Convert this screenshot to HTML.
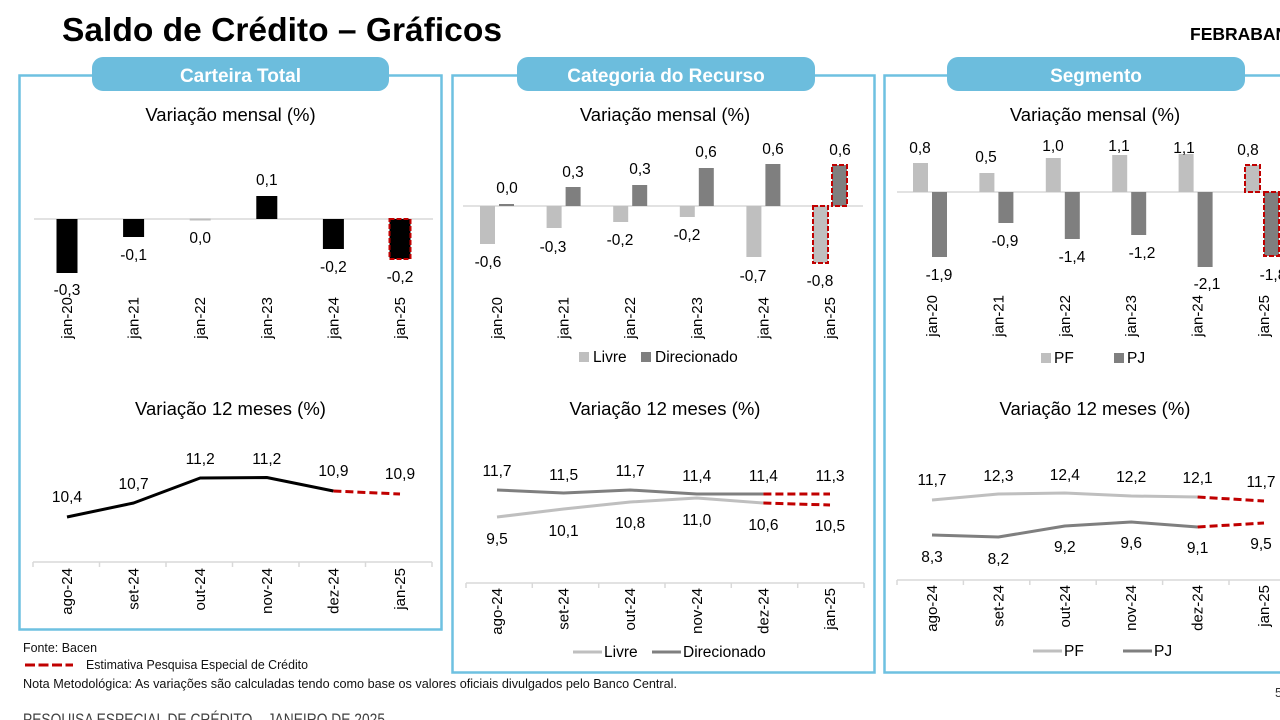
<!DOCTYPE html>
<html><head><meta charset="utf-8">
<style>
html,body{margin:0;padding:0;background:#fff;}
svg{display:block;}
text{font-family:"Liberation Sans",Arial,sans-serif;fill:#000;}
.t{font-size:18.5px;text-anchor:middle;}
.v{font-size:15.5px;text-anchor:middle;}
.c{font-size:15px;text-anchor:end;}
.lg{font-size:15.5px;}
.pill{font-size:19px;font-weight:bold;fill:#fff;text-anchor:middle;}
.ft{font-size:13px;fill:#111;}
</style></head>
<body>
<svg width="1280" height="720" viewBox="0 0 1280 720" xmlns="http://www.w3.org/2000/svg">
<rect width="1280" height="720" fill="#fff"/>

<!-- Header -->
<text x="62" y="41" font-size="33" font-weight="bold" textLength="440" lengthAdjust="spacingAndGlyphs">Saldo de Crédito – Gráficos</text>
<text x="1190" y="40" font-size="17.5" font-weight="bold">FEBRABAN</text>

<!-- Panel boxes -->
<rect x="19.5" y="75.5" width="422" height="554" fill="none" stroke="#6ec1e1" stroke-width="2.5"/>
<rect x="452.5" y="75.5" width="422" height="597" fill="none" stroke="#6ec1e1" stroke-width="2.5"/>
<rect x="884.5" y="75.5" width="420" height="597" fill="none" stroke="#6ec1e1" stroke-width="2.5"/>

<!-- Pills -->
<rect x="92" y="57" width="297" height="34" rx="11" fill="#6cbddd"/>
<text class="pill" x="240.5" y="82">Carteira Total</text>
<rect x="517" y="57" width="298" height="34" rx="11" fill="#6cbddd"/>
<text class="pill" x="666" y="82">Categoria do Recurso</text>
<rect x="947" y="57" width="298" height="34" rx="11" fill="#6cbddd"/>
<text class="pill" x="1096" y="82">Segmento</text>

<!-- ============ PANEL 1 TOP ============ -->
<text class="t" x="230.5" y="121">Variação mensal (%)</text>
<line x1="34" y1="219" x2="433" y2="219" stroke="#d9d9d9" stroke-width="1.5"/>
<rect x="56.5" y="219" width="21" height="54" fill="#000"/>
<rect x="123.1" y="219" width="21" height="18" fill="#000"/>
<rect x="189.7" y="218.5" width="21" height="2" fill="#bdbdbd"/>
<rect x="256.3" y="196" width="21" height="23" fill="#000"/>
<rect x="322.9" y="219" width="21" height="30" fill="#000"/>
<rect x="389.5" y="219" width="21" height="40" fill="#000" stroke="#c00000" stroke-width="2" stroke-dasharray="5,2"/>
<text class="v" x="67" y="295">-0,3</text>
<text class="v" x="133.6" y="260">-0,1</text>
<text class="v" x="200.2" y="243">0,0</text>
<text class="v" x="266.8" y="185">0,1</text>
<text class="v" x="333.4" y="272">-0,2</text>
<text class="v" x="400" y="282">-0,2</text>
<text class="c" transform="translate(72,297) rotate(-90)">jan-20</text>
<text class="c" transform="translate(138.6,297) rotate(-90)">jan-21</text>
<text class="c" transform="translate(205.2,297) rotate(-90)">jan-22</text>
<text class="c" transform="translate(271.8,297) rotate(-90)">jan-23</text>
<text class="c" transform="translate(338.4,297) rotate(-90)">jan-24</text>
<text class="c" transform="translate(405,297) rotate(-90)">jan-25</text>

<!-- ============ PANEL 1 BOTTOM ============ -->
<text class="t" x="230.5" y="415">Variação 12 meses (%)</text>
<polyline points="67,517 133.6,503 200.2,478 266.8,477.5 333.4,491" fill="none" stroke="#000" stroke-width="3" stroke-linejoin="round"/>
<line x1="333.4" y1="491" x2="400" y2="494" stroke="#c00000" stroke-width="3" stroke-dasharray="8,4"/>
<text class="v" x="67" y="502">10,4</text>
<text class="v" x="133.6" y="489">10,7</text>
<text class="v" x="200.2" y="464">11,2</text>
<text class="v" x="266.8" y="464">11,2</text>
<text class="v" x="333.4" y="476">10,9</text>
<text class="v" x="400" y="479">10,9</text>
<g stroke="#d9d9d9" stroke-width="1.5">
<line x1="33" y1="562" x2="432" y2="562"/>
<line x1="33" y1="562" x2="33" y2="567"/><line x1="99.5" y1="562" x2="99.5" y2="567"/>
<line x1="166" y1="562" x2="166" y2="567"/><line x1="232.5" y1="562" x2="232.5" y2="567"/>
<line x1="299" y1="562" x2="299" y2="567"/><line x1="365.5" y1="562" x2="365.5" y2="567"/>
<line x1="432" y1="562" x2="432" y2="567"/>
</g>
<text class="c" transform="translate(72,568) rotate(-90)">ago-24</text>
<text class="c" transform="translate(138.6,568) rotate(-90)">set-24</text>
<text class="c" transform="translate(205.2,568) rotate(-90)">out-24</text>
<text class="c" transform="translate(271.8,568) rotate(-90)">nov-24</text>
<text class="c" transform="translate(338.4,568) rotate(-90)">dez-24</text>
<text class="c" transform="translate(405,568) rotate(-90)">jan-25</text>

<!-- ============ PANEL 2 TOP ============ -->
<text class="t" x="665" y="121">Variação mensal (%)</text>
<line x1="463" y1="206" x2="863" y2="206" stroke="#d9d9d9" stroke-width="1.5"/>
<g fill="#bfbfbf">
<rect x="480" y="206" width="15" height="38"/>
<rect x="546.6" y="206" width="15" height="22"/>
<rect x="613.2" y="206" width="15" height="16"/>
<rect x="679.8" y="206" width="15" height="11"/>
<rect x="746.4" y="206" width="15" height="51"/>
</g>
<rect x="813" y="206" width="15" height="57" fill="#bfbfbf" stroke="#c00000" stroke-width="2" stroke-dasharray="5,2"/>
<g fill="#7f7f7f">
<rect x="499" y="204" width="15" height="2"/>
<rect x="565.6" y="187" width="15" height="19"/>
<rect x="632.2" y="185" width="15" height="21"/>
<rect x="698.8" y="168" width="15" height="38"/>
<rect x="765.4" y="164" width="15" height="42"/>
</g>
<rect x="832" y="165" width="15" height="41" fill="#7f7f7f" stroke="#c00000" stroke-width="2" stroke-dasharray="5,2"/>
<text class="v" x="488" y="267">-0,6</text>
<text class="v" x="553" y="252">-0,3</text>
<text class="v" x="620" y="245">-0,2</text>
<text class="v" x="687" y="240">-0,2</text>
<text class="v" x="753" y="281">-0,7</text>
<text class="v" x="820" y="286">-0,8</text>
<text class="v" x="507" y="193">0,0</text>
<text class="v" x="573" y="177">0,3</text>
<text class="v" x="640" y="174">0,3</text>
<text class="v" x="706" y="157">0,6</text>
<text class="v" x="773" y="154">0,6</text>
<text class="v" x="840" y="155">0,6</text>
<text class="c" transform="translate(502,297) rotate(-90)">jan-20</text>
<text class="c" transform="translate(568.6,297) rotate(-90)">jan-21</text>
<text class="c" transform="translate(635.2,297) rotate(-90)">jan-22</text>
<text class="c" transform="translate(701.8,297) rotate(-90)">jan-23</text>
<text class="c" transform="translate(768.4,297) rotate(-90)">jan-24</text>
<text class="c" transform="translate(835,297) rotate(-90)">jan-25</text>
<rect x="579" y="352" width="10" height="10" fill="#bfbfbf"/>
<text class="lg" x="593" y="362">Livre</text>
<rect x="641" y="352" width="10" height="10" fill="#7f7f7f"/>
<text class="lg" x="655" y="362">Direcionado</text>

<!-- ============ PANEL 2 BOTTOM ============ -->
<text class="t" x="665" y="415">Variação 12 meses (%)</text>
<polyline points="497,490 563.6,493 630.2,490 696.8,494 763.4,494" fill="none" stroke="#7f7f7f" stroke-width="3" stroke-linejoin="round"/>
<line x1="763.4" y1="494" x2="830" y2="494" stroke="#c00000" stroke-width="3" stroke-dasharray="8,4"/>
<polyline points="497,517 563.6,509 630.2,502 696.8,498 763.4,503" fill="none" stroke="#bfbfbf" stroke-width="3" stroke-linejoin="round"/>
<line x1="763.4" y1="503" x2="830" y2="505" stroke="#c00000" stroke-width="3" stroke-dasharray="8,4"/>
<text class="v" x="497" y="476">11,7</text>
<text class="v" x="563.6" y="480">11,5</text>
<text class="v" x="630.2" y="476">11,7</text>
<text class="v" x="696.8" y="481">11,4</text>
<text class="v" x="763.4" y="481">11,4</text>
<text class="v" x="830" y="481">11,3</text>
<text class="v" x="497" y="544">9,5</text>
<text class="v" x="563.6" y="536">10,1</text>
<text class="v" x="630.2" y="528">10,8</text>
<text class="v" x="696.8" y="525">11,0</text>
<text class="v" x="763.4" y="530">10,6</text>
<text class="v" x="830" y="531">10,5</text>
<g stroke="#d9d9d9" stroke-width="1.5">
<line x1="466" y1="583" x2="864" y2="583"/>
<line x1="466" y1="583" x2="466" y2="588"/><line x1="532.3" y1="583" x2="532.3" y2="588"/>
<line x1="598.7" y1="583" x2="598.7" y2="588"/><line x1="665" y1="583" x2="665" y2="588"/>
<line x1="731.3" y1="583" x2="731.3" y2="588"/><line x1="797.7" y1="583" x2="797.7" y2="588"/>
<line x1="864" y1="583" x2="864" y2="588"/>
</g>
<text class="c" transform="translate(502,588) rotate(-90)">ago-24</text>
<text class="c" transform="translate(568.6,588) rotate(-90)">set-24</text>
<text class="c" transform="translate(635.2,588) rotate(-90)">out-24</text>
<text class="c" transform="translate(701.8,588) rotate(-90)">nov-24</text>
<text class="c" transform="translate(768.4,588) rotate(-90)">dez-24</text>
<text class="c" transform="translate(835,588) rotate(-90)">jan-25</text>
<line x1="573" y1="652" x2="602" y2="652" stroke="#bfbfbf" stroke-width="3"/>
<text class="lg" x="604" y="657">Livre</text>
<line x1="652" y1="652" x2="681" y2="652" stroke="#7f7f7f" stroke-width="3"/>
<text class="lg" x="683" y="657">Direcionado</text>

<!-- ============ PANEL 3 TOP ============ -->
<text class="t" x="1095" y="121">Variação mensal (%)</text>
<line x1="897" y1="192" x2="1280" y2="192" stroke="#d9d9d9" stroke-width="1.5"/>
<g fill="#bfbfbf">
<rect x="913" y="163" width="15" height="29"/>
<rect x="979.4" y="173" width="15" height="19"/>
<rect x="1045.8" y="158" width="15" height="34"/>
<rect x="1112.2" y="155" width="15" height="37"/>
<rect x="1178.6" y="154" width="15" height="38"/>
</g>
<rect x="1245" y="165" width="15" height="27" fill="#bfbfbf" stroke="#c00000" stroke-width="2" stroke-dasharray="5,2"/>
<g fill="#7f7f7f">
<rect x="932" y="192" width="15" height="65"/>
<rect x="998.4" y="192" width="15" height="31"/>
<rect x="1064.8" y="192" width="15" height="47"/>
<rect x="1131.2" y="192" width="15" height="43"/>
<rect x="1197.6" y="192" width="15" height="75"/>
</g>
<rect x="1264" y="192" width="15" height="64" fill="#7f7f7f" stroke="#c00000" stroke-width="2" stroke-dasharray="5,2"/>
<text class="v" x="920" y="153">0,8</text>
<text class="v" x="986" y="162">0,5</text>
<text class="v" x="1053" y="151">1,0</text>
<text class="v" x="1119" y="151">1,1</text>
<text class="v" x="1184" y="153">1,1</text>
<text class="v" x="1248" y="155">0,8</text>
<text class="v" x="939" y="280">-1,9</text>
<text class="v" x="1005" y="246">-0,9</text>
<text class="v" x="1072" y="262">-1,4</text>
<text class="v" x="1142" y="258">-1,2</text>
<text class="v" x="1207" y="289">-2,1</text>
<text class="v" x="1273" y="280">-1,8</text>
<text class="c" transform="translate(937,295) rotate(-90)">jan-20</text>
<text class="c" transform="translate(1003.4,295) rotate(-90)">jan-21</text>
<text class="c" transform="translate(1069.8,295) rotate(-90)">jan-22</text>
<text class="c" transform="translate(1136.2,295) rotate(-90)">jan-23</text>
<text class="c" transform="translate(1202.6,295) rotate(-90)">jan-24</text>
<text class="c" transform="translate(1269,295) rotate(-90)">jan-25</text>
<rect x="1041" y="353" width="10" height="10" fill="#bfbfbf"/>
<text class="lg" x="1054" y="363">PF</text>
<rect x="1114" y="353" width="10" height="10" fill="#7f7f7f"/>
<text class="lg" x="1127" y="363">PJ</text>

<!-- ============ PANEL 3 BOTTOM ============ -->
<text class="t" x="1095" y="415">Variação 12 meses (%)</text>
<polyline points="932,500 998.4,494 1064.8,493 1131.2,496 1197.6,497" fill="none" stroke="#bfbfbf" stroke-width="3" stroke-linejoin="round"/>
<line x1="1197.6" y1="497" x2="1264" y2="501" stroke="#c00000" stroke-width="3" stroke-dasharray="8,4"/>
<polyline points="932,535 998.4,537 1064.8,526 1131.2,522 1197.6,527" fill="none" stroke="#7f7f7f" stroke-width="3" stroke-linejoin="round"/>
<line x1="1197.6" y1="527" x2="1264" y2="523" stroke="#c00000" stroke-width="3" stroke-dasharray="8,4"/>
<text class="v" x="932" y="485">11,7</text>
<text class="v" x="998.4" y="481">12,3</text>
<text class="v" x="1064.8" y="480">12,4</text>
<text class="v" x="1131.2" y="482">12,2</text>
<text class="v" x="1197.6" y="483">12,1</text>
<text class="v" x="1261" y="487">11,7</text>
<text class="v" x="932" y="562">8,3</text>
<text class="v" x="998.4" y="564">8,2</text>
<text class="v" x="1064.8" y="552">9,2</text>
<text class="v" x="1131.2" y="548">9,6</text>
<text class="v" x="1197.6" y="553">9,1</text>
<text class="v" x="1261" y="549">9,5</text>
<g stroke="#d9d9d9" stroke-width="1.5">
<line x1="897" y1="580" x2="1280" y2="580"/>
<line x1="897" y1="580" x2="897" y2="585"/><line x1="963.4" y1="580" x2="963.4" y2="585"/>
<line x1="1029.8" y1="580" x2="1029.8" y2="585"/><line x1="1096.2" y1="580" x2="1096.2" y2="585"/>
<line x1="1162.6" y1="580" x2="1162.6" y2="585"/><line x1="1229" y1="580" x2="1229" y2="585"/>
</g>
<text class="c" transform="translate(937,585) rotate(-90)">ago-24</text>
<text class="c" transform="translate(1003.4,585) rotate(-90)">set-24</text>
<text class="c" transform="translate(1069.8,585) rotate(-90)">out-24</text>
<text class="c" transform="translate(1136.2,585) rotate(-90)">nov-24</text>
<text class="c" transform="translate(1202.6,585) rotate(-90)">dez-24</text>
<text class="c" transform="translate(1269,585) rotate(-90)">jan-25</text>
<line x1="1033" y1="651" x2="1062" y2="651" stroke="#bfbfbf" stroke-width="3"/>
<text class="lg" x="1064" y="656">PF</text>
<line x1="1123" y1="651" x2="1152" y2="651" stroke="#7f7f7f" stroke-width="3"/>
<text class="lg" x="1154" y="656">PJ</text>

<!-- ============ FOOTER ============ -->
<text class="ft" x="23" y="652" textLength="74" lengthAdjust="spacingAndGlyphs">Fonte: Bacen</text>
<line x1="25" y1="665" x2="73" y2="665" stroke="#c00000" stroke-width="3" stroke-dasharray="10,3.5"/>
<text class="ft" x="86" y="669" textLength="222" lengthAdjust="spacingAndGlyphs">Estimativa Pesquisa Especial de Crédito</text>
<text class="ft" x="23" y="688" textLength="654" lengthAdjust="spacingAndGlyphs">Nota Metodológica: As variações são calculadas tendo como base os valores oficiais divulgados pelo Banco Central.</text>
<text x="23" y="725" font-size="17" fill="#404040" textLength="362" lengthAdjust="spacingAndGlyphs" style="fill:#404040">PESQUISA ESPECIAL DE CRÉDITO – JANEIRO DE 2025</text>
<text x="1275" y="697" font-size="13" style="fill:#333">5</text>
</svg>
</body></html>
